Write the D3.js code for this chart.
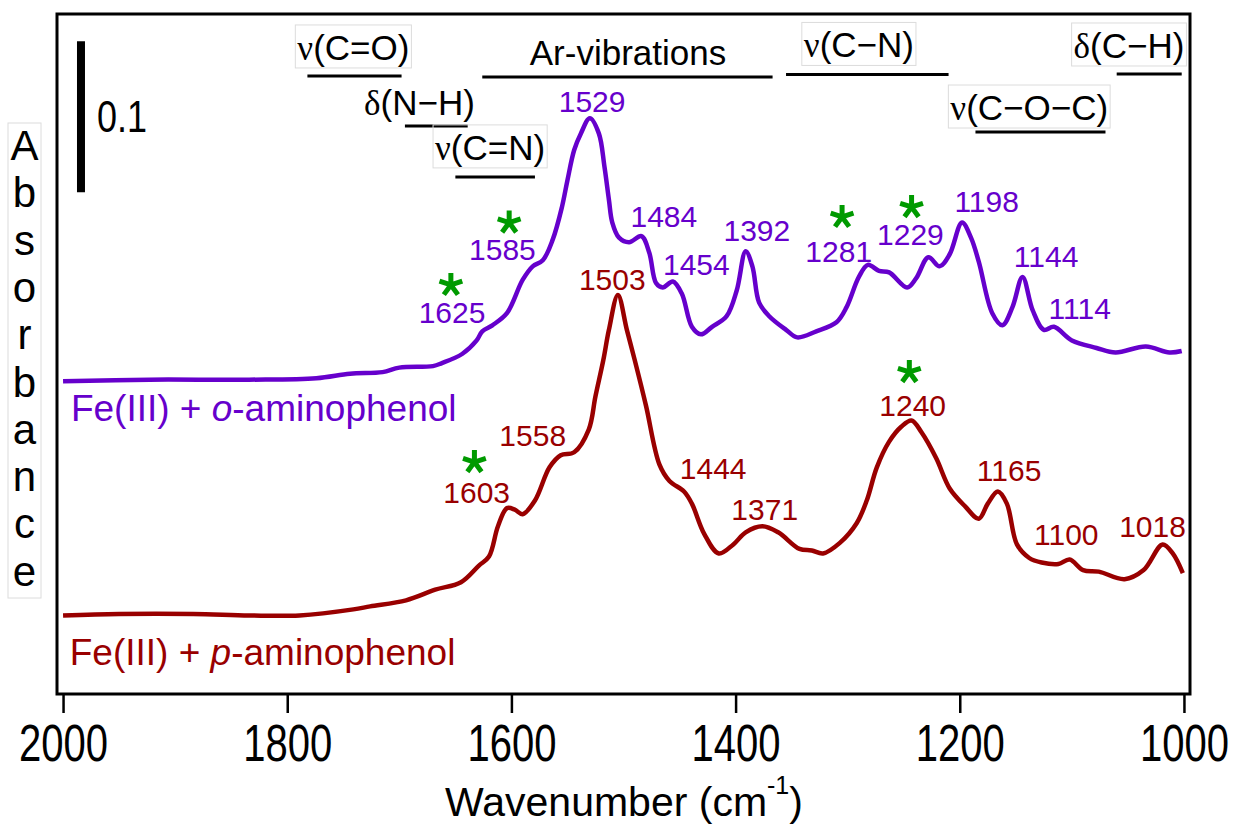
<!DOCTYPE html>
<html>
<head>
<meta charset="utf-8">
<script src="https://cdn.jsdelivr.net/npm/d3@7"></script>
<style>
  body { margin: 0; background: #fff; }
  text { font-family: "Liberation Sans", Arial, sans-serif; }
</style>
</head>
<body>
<svg id="chart" width="1236" height="840"></svg>
<script>
// spectra (absorbance includes the vertical offset)
const oWavenumber = [2000, 1923, 1834, 1774, 1744, 1715, 1700, 1670, 1662, 1644, 1631, 1626, 1617, 1604, 1590, 1581, 1572, 1563, 1555, 1550, 1544, 1538, 1530, 1522, 1517, 1513, 1510, 1504, 1495, 1484, 1477, 1471, 1465, 1456, 1448, 1439, 1431, 1421, 1408, 1399, 1391, 1385, 1379, 1370, 1355, 1345, 1328, 1310, 1301, 1290, 1282, 1272, 1263, 1247, 1239, 1228, 1218, 1209, 1198, 1190, 1183, 1171, 1162, 1153, 1144, 1135, 1125, 1116, 1100, 1078, 1061, 1034, 1013, 1002];
const oAbsorbance = [0.207, 0.208, 0.208, 0.209, 0.212, 0.213, 0.216, 0.217, 0.219, 0.225, 0.234, 0.240, 0.244, 0.252, 0.274, 0.283, 0.287, 0.301, 0.322, 0.340, 0.360, 0.371, 0.381, 0.371, 0.349, 0.327, 0.312, 0.302, 0.299, 0.303, 0.292, 0.272, 0.269, 0.273, 0.265, 0.243, 0.238, 0.243, 0.250, 0.267, 0.293, 0.283, 0.259, 0.250, 0.241, 0.236, 0.240, 0.246, 0.256, 0.276, 0.284, 0.280, 0.279, 0.269, 0.275, 0.289, 0.283, 0.291, 0.312, 0.302, 0.286, 0.252, 0.244, 0.256, 0.276, 0.254, 0.241, 0.243, 0.234, 0.229, 0.226, 0.230, 0.226, 0.227];

const pWavenumber = [2000, 1950, 1884, 1834, 1789, 1741, 1726, 1694, 1668, 1645, 1629, 1620, 1612, 1604, 1597, 1590, 1579, 1566, 1556, 1544, 1531, 1525, 1518, 1513, 1505, 1497, 1490, 1480, 1468, 1459, 1446, 1439, 1428, 1415, 1402, 1391, 1376, 1362, 1343, 1332, 1322, 1307, 1292, 1283, 1274, 1263, 1252, 1243, 1234, 1221, 1209, 1195, 1183, 1175, 1166, 1158, 1149, 1138, 1127, 1112, 1102, 1090, 1076, 1053, 1036, 1019, 1010, 1001];
const pAbsorbance = [0.052, 0.053, 0.053, 0.052, 0.052, 0.056, 0.058, 0.062, 0.069, 0.074, 0.085, 0.091, 0.111, 0.123, 0.122, 0.119, 0.128, 0.150, 0.158, 0.160, 0.175, 0.197, 0.221, 0.241, 0.264, 0.241, 0.221, 0.191, 0.152, 0.141, 0.134, 0.126, 0.106, 0.093, 0.099, 0.107, 0.111, 0.107, 0.096, 0.095, 0.093, 0.100, 0.113, 0.128, 0.150, 0.167, 0.177, 0.181, 0.173, 0.156, 0.136, 0.124, 0.116, 0.126, 0.134, 0.126, 0.099, 0.090, 0.087, 0.086, 0.089, 0.082, 0.081, 0.076, 0.082, 0.099, 0.093, 0.080];

// peak labels: text, label anchor (wavenumber, absorbance)
const oPeakText = ["1625", "1585", "1529", "1484", "1454", "1392", "1281", "1229", "1198", "1144", "1114"];
const oPeakWn = [1653, 1608, 1528, 1464, 1435, 1381, 1308, 1244, 1176, 1123, 1093];
const oPeakAbs = [0.2455, 0.287, 0.385, 0.309, 0.277, 0.300, 0.286, 0.297, 0.319, 0.2826, 0.248];
const oStarWn = [1654, 1602, 1305, 1243];
const oStarAbs = [0.2707, 0.312, 0.3157, 0.3223];

const pPeakText = ["1603", "1558", "1503", "1444", "1371", "1240", "1165", "1100", "1018"];
const pPeakWn = [1631, 1581, 1510, 1420, 1374, 1242, 1156, 1105, 1028];
const pPeakAbs = [0.1264, 0.1641, 0.2674, 0.1423, 0.1152, 0.184, 0.141, 0.0986, 0.1039];
const pStarWn = [1633, 1245];
const pStarAbs = [0.1535, 0.2131];

// band assignments across the top
const bandNames = ["ν(C=O)", "δ(N−H)", "ν(C=N)", "Ar-vibrations", "ν(C−N)", "ν(C−O−C)", "δ(C−H)"];
const bandFrom = [1782, 1695, 1650, 1626, 1355, 1186, 1060];
const bandTo = [1698, 1639, 1579, 1367, 1210, 1070, 1002];
const bandLevel = [0.409, 0.3759, 0.3422, 0.4083, 0.410, 0.3719, 0.4103];
const bandTextWn = [1741, 1682, 1619, 1496, 1290, 1138, 1049];

const xTicks = [2000, 1800, 1600, 1400, 1200, 1000];
const scaleBar = 0.1;

// layout
const bandLift = [16, 11, 17, 12, 17, 12, 16];
const bandBoxed = [true, false, true, false, true, true, true];
const purple = "#6600cc", red = "#990000", green = "#009a00";

const svg = d3.select("#chart");
const x = d3.scaleLinear().domain([2005.4, 994.6]).range([57, 1190]);
const y = d3.scaleLinear().domain([0, 0.45]).range([694, 14]);

// x axis
const xAxis = svg.append("g")
  .attr("transform", "translate(0,694)")
  .call(d3.axisBottom(x).tickValues(xTicks).tickFormat(d3.format("d"))
    .tickSize(19).tickSizeOuter(0));
xAxis.select(".domain").remove();
xAxis.selectAll(".tick line").attr("stroke", "#000").attr("stroke-width", 2.5);
xAxis.selectAll(".tick text")
  .attr("y", 0).attr("dy", null)
  .attr("transform", "translate(0,67) scale(1,1.28)")
  .attr("font-size", 40)
  .attr("fill", "#000")
  .style("font-family", '"Liberation Sans", Arial, sans-serif');

// frame
svg.append("rect")
  .attr("x", 57).attr("y", 14).attr("width", 1133).attr("height", 680)
  .attr("fill", "none").attr("stroke", "#000").attr("stroke-width", 3);

// axis title
const xt = svg.append("text").attr("x", 624).attr("y", 816)
  .attr("text-anchor", "middle").attr("font-size", 41);
xt.append("tspan").text("Wavenumber (cm");
xt.append("tspan").attr("font-size", 25).attr("dy", -22).text("-1");
xt.append("tspan").attr("dy", 22).text(")");

// vertical "Absorbance"
const yLetters = "Absorbance".split("");
svg.append("rect").attr("x", 8).attr("y", 123).attr("width", 33).attr("height", 475)
  .attr("fill", "none").attr("stroke", "#dcdcdc").attr("stroke-width", 1);
svg.selectAll(".ylab").data(yLetters).join("text")
  .attr("x", 24.5).attr("y", (d, i) => 160 + i * 47.3)
  .attr("text-anchor", "middle").attr("font-size", 42).text(d => d);

// scale bar
svg.append("line")
  .attr("x1", x(1984)).attr("x2", x(1984))
  .attr("y1", y(0.332)).attr("y2", y(0.332 + scaleBar))
  .attr("stroke", "#000").attr("stroke-width", 8);
svg.append("text")
  .attr("transform", "translate(97,132) scale(1,1.24)")
  .attr("font-size", 36).text(String(scaleBar));

// spectra
const line = d3.line().x(d => x(d[0])).y(d => y(d[1])).curve(d3.curveCatmullRom.alpha(0.5));
function drawSpectrum(wn, ab, color) {
  svg.append("path")
    .datum(wn.map((w, i) => [w, ab[i]]))
    .attr("d", line)
    .attr("fill", "none").attr("stroke", color)
    .attr("stroke-width", 4.5).attr("stroke-linejoin", "round");
}
drawSpectrum(oWavenumber, oAbsorbance, purple);
drawSpectrum(pWavenumber, pAbsorbance, red);

// peak labels
function drawLabels(texts, wn, ab, color) {
  svg.append("g").selectAll("text").data(texts).join("text")
    .attr("x", (d, i) => x(wn[i])).attr("y", (d, i) => y(ab[i]))
    .attr("text-anchor", "middle").attr("font-size", 30)
    .attr("fill", color).text(d => d);
}
drawLabels(oPeakText, oPeakWn, oPeakAbs, purple);
drawLabels(pPeakText, pPeakWn, pPeakAbs, red);

// green asterisks
function asterisk(r) {
  let p = "";
  for (let i = 0; i < 5; i++) {
    const a = -Math.PI / 2 + i * 2 * Math.PI / 5;
    p += `M0,0L${(r * Math.cos(a)).toFixed(2)},${(r * Math.sin(a)).toFixed(2)}`;
  }
  return p;
}
function drawStars(wn, ab) {
  svg.append("g").selectAll("path").data(wn).join("path")
    .attr("transform", (d, i) => `translate(${x(d)},${y(ab[i])})`)
    .attr("d", asterisk(12))
    .attr("stroke", green).attr("stroke-width", 5).attr("fill", "none");
}
drawStars(oStarWn, oStarAbs);
drawStars(pStarWn, pStarAbs);

// series names
function seriesName(wn, ab, color, italic) {
  const t = svg.append("text").attr("x", x(wn)).attr("y", y(ab))
    .attr("font-size", 37).attr("fill", color);
  t.append("tspan").text("Fe(III) + ");
  t.append("tspan").attr("font-style", "italic").text(italic);
  t.append("tspan").text("-aminophenol");
}
seriesName(1993, 0.1807, purple, "o");
seriesName(1994, 0.0192, red, "p");

// band assignments
bandNames.forEach((name, i) => {
  const g = svg.append("g");
  const ly = y(bandLevel[i]);
  const base = ly - bandLift[i];
  const t = g.append("text").attr("x", x(bandTextWn[i])).attr("y", base)
    .attr("text-anchor", "middle").attr("font-size", 35).attr("fill", "#000");
  if (name[0] === "ν" || name[0] === "δ") {
    t.append("tspan").style("font-family", '"Liberation Serif", serif').text(name[0]);
    t.append("tspan").text(name.slice(1));
  } else {
    t.text(name);
  }
  if (bandBoxed[i]) {
    const bb = t.node().getBBox();
    g.insert("rect", "text")
      .attr("x", bb.x - 2).attr("y", base - 35)
      .attr("width", bb.width + 4).attr("height", 43)
      .attr("fill", "none").attr("stroke", "#dcdcdc").attr("stroke-width", 1);
  }
  g.append("line")
    .attr("x1", x(bandFrom[i])).attr("x2", x(bandTo[i]))
    .attr("y1", ly).attr("y2", ly)
    .attr("stroke", "#000").attr("stroke-width", 3);
});
</script>
</body>
</html>
